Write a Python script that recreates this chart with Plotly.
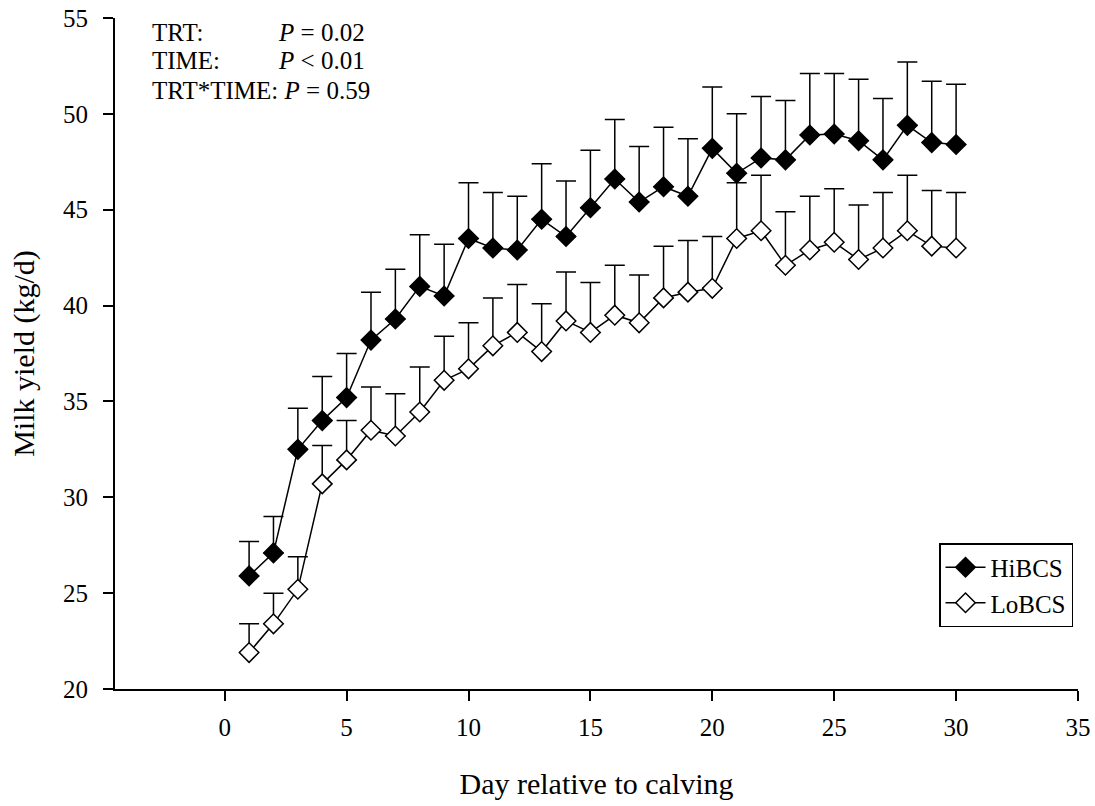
import plotly.graph_objects as go

days = list(range(1, 31))
hi_mean = [25.9, 27.1, 32.5, 34.0, 35.2, 38.2, 39.3, 41.0, 40.5, 43.5,
           43.0, 42.9, 44.5, 43.6, 45.1, 46.6, 45.4, 46.2, 45.7, 48.2,
           46.9, 47.7, 47.6, 48.9, 48.95, 48.6, 47.6, 49.4, 48.5, 48.4]
hi_top = [27.7, 29.0, 34.65, 36.3, 37.5, 40.7, 41.9, 43.7, 43.2, 46.4,
          45.9, 45.7, 47.4, 46.5, 48.1, 49.7, 48.3, 49.3, 48.7, 51.4,
          50.0, 50.9, 50.7, 52.1, 52.1, 51.8, 50.8, 52.7, 51.7, 51.55]
lo_mean = [21.9, 23.4, 25.2, 30.7, 31.95, 33.5, 33.2, 34.45, 36.1, 36.7,
           37.9, 38.6, 37.6, 39.2, 38.6, 39.5, 39.1, 40.4, 40.7, 40.9,
           43.5, 43.9, 42.1, 42.9, 43.3, 42.4, 43.0, 43.9, 43.1, 43.0]
lo_top = [23.4, 25.0, 26.9, 32.7, 34.0, 35.75, 35.4, 36.8, 38.4, 39.1,
          40.4, 41.1, 40.1, 41.75, 41.2, 42.1, 41.6, 43.1, 43.4, 43.6,
          46.4, 46.8, 44.9, 45.7, 46.1, 45.25, 45.9, 46.8, 46.0, 45.9]

x_ticks = [0, 5, 10, 15, 20, 25, 30, 35]
y_ticks = [20, 25, 30, 35, 40, 45, 50, 55]

FONT = "Liberation Serif"

def err(top, mean):
    return [t - m for t, m in zip(top, mean)]

fig = go.Figure()
fig.add_trace(go.Scatter(
    x=days, y=hi_mean, mode="lines+markers", name="HiBCS",
    line=dict(color="black", width=1.5),
    marker=dict(symbol="diamond", size=15, color="black",
                line=dict(color="black", width=1.5)),
    error_y=dict(type="data", symmetric=False, array=err(hi_top, hi_mean),
                 arrayminus=[0] * len(days), color="black", thickness=1.5, width=10),
))
fig.add_trace(go.Scatter(
    x=days, y=lo_mean, mode="lines+markers", name="LoBCS",
    line=dict(color="black", width=1.5),
    marker=dict(symbol="diamond", size=15, color="white",
                line=dict(color="black", width=1.5)),
    error_y=dict(type="data", symmetric=False, array=err(lo_top, lo_mean),
                 arrayminus=[0] * len(days), color="black", thickness=1.5, width=10),
))

W, H = 1095, 806
L, R, T, B = 115, 17, 18, 117
pw, ph = W - L - R, H - T - B

def px(xp):
    return (xp - L) / pw

def py(yp):
    return (H - B - yp) / ph

ann_font = dict(family=FONT, size=25, color="black")
for label, yp in [("TRT:", 32), ("TIME:", 61), ("TRT*TIME: <i>P</i> = 0.59", 90)]:
    fig.add_annotation(x=px(150), y=py(yp), xref="paper", yref="paper",
                       text=label, showarrow=False, xanchor="left", yanchor="middle",
                       font=ann_font)
for label, yp in [("<i>P</i> = 0.02", 32), ("<i>P</i> &lt; 0.01", 61)]:
    fig.add_annotation(x=px(276), y=py(yp), xref="paper", yref="paper",
                       text=label, showarrow=False, xanchor="left", yanchor="middle",
                       font=ann_font)

fig.update_layout(
    width=W, height=H,
    margin=dict(l=L, r=R, t=T, b=B),
    paper_bgcolor="white", plot_bgcolor="white",
    font=dict(family=FONT, size=24, color="black"),
    showlegend=True,
    legend=dict(x=px(1073), y=py(627), xanchor="right", yanchor="bottom",
                bordercolor="black", borderwidth=1.5, bgcolor="white",
                font=dict(family=FONT, size=25, color="black"),
                tracegroupgap=0, itemwidth=40),
    xaxis=dict(range=[-4.5, 35], tickvals=x_ticks, ticks="outside", ticklen=10,
               tickwidth=1.5, tickcolor="black", showline=True, linecolor="black",
               linewidth=2, showgrid=False, zeroline=False, ticklabelstandoff=5,
               tickfont=dict(family=FONT, size=25), automargin=False,
               title=dict(text="Day relative to calving", font=dict(family=FONT, size=30),
                          standoff=33)),
    yaxis=dict(range=[20, 55], tickvals=y_ticks, ticks="outside", ticklen=10,
               tickwidth=1.5, tickcolor="black", showline=True, linecolor="black",
               linewidth=2, showgrid=False, zeroline=False, ticklabelstandoff=10,
               tickfont=dict(family=FONT, size=25), automargin=False,
               title=dict(text="Milk yield (kg/d)", font=dict(family=FONT, size=30),
                          standoff=20)),
)

fig.write_html("out.html")
